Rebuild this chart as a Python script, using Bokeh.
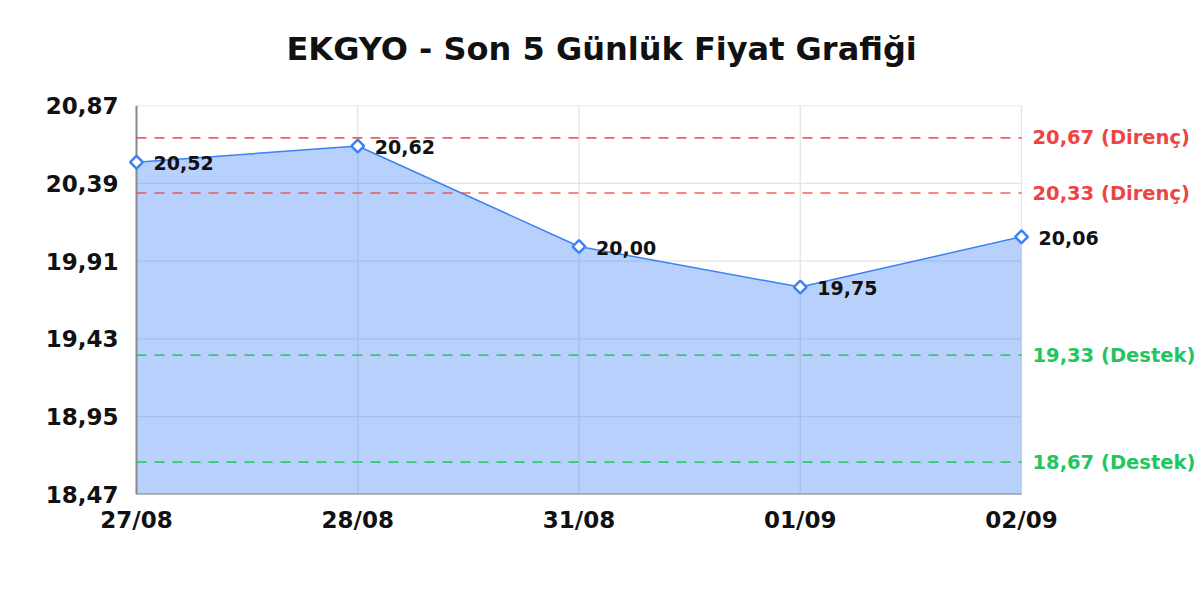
import math
from bokeh.plotting import figure
from bokeh.models import Range1d, FixedTicker, ColumnDataSource, Title
from bokeh.core.properties import value
from bokeh.embed import file_html
from bokeh.resources import INLINE

# ---- data ----
title_text = "EKGYO - Son 5 Günlük Fiyat Grafiği"
dates = ["27/08", "28/08", "31/08", "01/09", "02/09"]
prices = [20.52, 20.62, 20.00, 19.75, 20.06]
resistance = [20.67, 20.33]
support = [19.33, 18.67]
y_ticks = [18.47, 18.95, 19.43, 19.91, 20.39, 20.87]

def tr(v):
    return f"{v:.2f}".replace(".", ",")

FONT = "DejaVu Sans"
BLUE = "#3b82f6"
RED = "#ef4444"
GREEN = "#22c55e"
GRID = "#e4e4e4"
AXIS = "#8a8a8a"

# ---- layout (pixels) ----
W, H = 1200, 600
PLOT_L, PLOT_R = 136, 1021      # where first / last date sit
FRAME_L, FRAME_R = 124, 1200
TOP, BOTTOM = 105, 494

n = len(dates)
ppu = (PLOT_R - PLOT_L) / (n - 1)
x_start = -(PLOT_L - FRAME_L) / ppu
x_end = (n - 1) + (FRAME_R - PLOT_R) / ppu
y0, y1 = y_ticks[0], y_ticks[-1]

xs = list(range(n))
src = ColumnDataSource(dict(x=xs, y=prices, base=[y0] * n, lbl=[tr(v) for v in prices]))

p = figure(width=W, height=H, output_backend="svg", toolbar_location=None,
           x_range=Range1d(x_start, x_end), y_range=Range1d(y0, y1),
           min_border_left=FRAME_L, min_border_right=W - FRAME_R,
           min_border_top=TOP, min_border_bottom=H - BOTTOM)
p.title = None
p.outline_line_color = None
p.xgrid.grid_line_color = None
p.ygrid.grid_line_color = None

# title (spacer first, closest to the frame, then the real title)
p.add_layout(Title(text=" ", text_font_size="19px"), "above")
p.add_layout(Title(text=title_text, align="left", offset=286 - FRAME_L,
                   text_font=FONT, text_font_style="bold", text_font_size="32px",
                   text_color="#111111"), "above")

# axes
p.xaxis.ticker = FixedTicker(ticks=xs)
p.xaxis.major_label_overrides = {i: d for i, d in enumerate(dates)}
p.yaxis.ticker = FixedTicker(ticks=y_ticks)
p.yaxis.major_label_overrides = {t: tr(t) for t in y_ticks}
for ax in (p.xaxis[0], p.yaxis[0]):
    ax.axis_line_color = None
    ax.major_tick_line_color = None
    ax.minor_tick_line_color = None
    ax.major_tick_out = 0
    ax.major_tick_in = 0
    ax.major_label_text_font = FONT
    ax.major_label_text_font_style = "bold"
    ax.major_label_text_font_size = "23px"
    ax.major_label_text_color = "#111111"
p.yaxis.major_label_standoff = 6
p.xaxis.major_label_standoff = 12

# grid (limited to the date span)
p.segment(x0=[xs[0]] * len(y_ticks), y0=y_ticks, x1=[xs[-1]] * len(y_ticks), y1=y_ticks,
          line_color=GRID, line_width=1.3)
p.segment(x0=xs, y0=[y0] * n, x1=xs, y1=[y1] * n, line_color=GRID, line_width=1.3)

# area + line
p.varea(x="x", y1="base", y2="y", source=src, fill_color=BLUE, fill_alpha=0.37)
p.line(x="x", y="y", source=src, line_color=BLUE, line_width=1.5)

# axis lines
p.segment(x0=[xs[0]], y0=[y0], x1=[xs[0]], y1=[y1], line_color=AXIS, line_width=2)
p.segment(x0=[xs[0]], y0=[y0], x1=[xs[-1]], y1=[y0], line_color=AXIS, line_width=2)

# resistance / support lines and labels
for vals, col, name in ((resistance, RED, "Direnç"), (support, GREEN, "Destek")):
    p.segment(x0=[xs[0]] * len(vals), y0=vals, x1=[xs[-1]] * len(vals), y1=vals,
              line_color=col, line_alpha=0.85, line_width=1.6, line_dash="10 8")
    p.text(x=[xs[-1]] * len(vals), y=vals, text=[f"{tr(v)} ({name})" for v in vals],
           x_offset=11, text_align="left", text_baseline="middle",
           text_font=value(FONT), text_font_style="bold", text_font_size="19.5px",
           text_color=col)

# markers (rotated squares)
p.scatter(x="x", y="y", source=src, marker="square", angle=math.pi / 4, size=9,
          fill_color="white", line_color=BLUE, line_width=2.5)

# value labels
p.text(x="x", y="y", text="lbl", source=src, x_offset=17, y_offset=1,
       text_align="left", text_baseline="middle", text_font=value(FONT),
       text_font_style="bold", text_font_size="19px", text_color="#111111")

open("out.html", "w").write(file_html(p, INLINE))
